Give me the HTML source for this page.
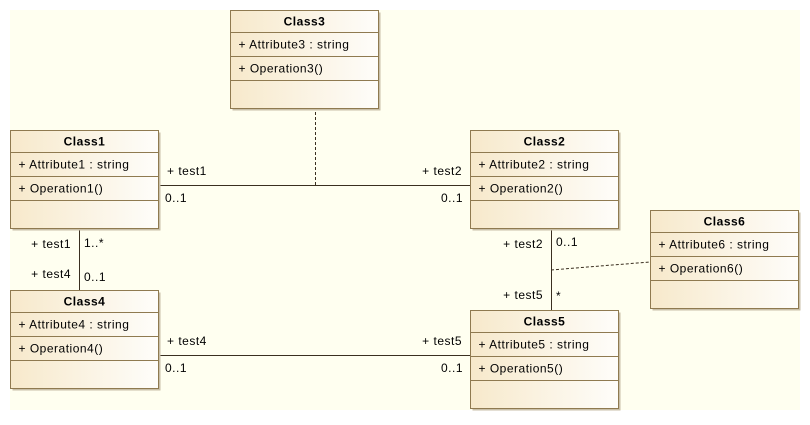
<!DOCTYPE html>
<html><head><style>
html,body{margin:0;padding:0;background:#fff;}
svg text{font-family:"Liberation Sans",sans-serif;font-size:12px;fill:#000;letter-spacing:0.5px;}
</style></head><body>
<svg width="810" height="420" xmlns="http://www.w3.org/2000/svg">
<defs>
<linearGradient id="g" x1="0" x2="1" y1="0" y2="0">
<stop offset="0" stop-color="#f7e9cb"/><stop offset="1" stop-color="#fefdfa"/>
</linearGradient>
<g id="box">
<rect x="2" y="2" width="148" height="98" fill="#c9bfa8"/>
<rect x="0" y="0" width="148" height="98" fill="url(#g)" stroke="#8f7a50" stroke-width="1"/>
<line x1="0" y1="22" x2="148" y2="22" stroke="#8f7a50"/>
<line x1="0" y1="46" x2="148" y2="46" stroke="#8f7a50"/>
<line x1="0" y1="70" x2="148" y2="70" stroke="#8f7a50"/>
</g>
</defs>
<rect x="10" y="10" width="790" height="400" fill="#fffff0"/>
<line x1="158" y1="185.5" x2="470" y2="185.5" stroke="#3a2f20"/>
<line x1="315.5" y1="112" x2="315.5" y2="185" stroke="#3a2f20" stroke-dasharray="3,2"/>
<line x1="79.5" y1="228" x2="79.5" y2="290" stroke="#3a2f20"/>
<line x1="158" y1="355.5" x2="470" y2="355.5" stroke="#3a2f20"/>
<line x1="551.5" y1="228" x2="551.5" y2="310" stroke="#3a2f20"/>
<polyline points="551,270 600,266 650,262" fill="none" stroke="#3a2f20" stroke-dasharray="3,2"/>
<g transform="translate(230.5,10.5)"><use href="#box"/><text x="74" y="15" text-anchor="middle" font-weight="bold">Class3</text><text x="8" y="38">+ Attribute3 : string</text><text x="8" y="62">+ Operation3()</text></g>
<g transform="translate(10.5,130.5)"><use href="#box"/><text x="74" y="15" text-anchor="middle" font-weight="bold">Class1</text><text x="8" y="38">+ Attribute1 : string</text><text x="8" y="62">+ Operation1()</text></g>
<g transform="translate(470.5,130.5)"><use href="#box"/><text x="74" y="15" text-anchor="middle" font-weight="bold">Class2</text><text x="8" y="38">+ Attribute2 : string</text><text x="8" y="62">+ Operation2()</text></g>
<g transform="translate(650.5,210.5)"><use href="#box"/><text x="74" y="15" text-anchor="middle" font-weight="bold">Class6</text><text x="8" y="38">+ Attribute6 : string</text><text x="8" y="62">+ Operation6()</text></g>
<g transform="translate(10.5,290.5)"><use href="#box"/><text x="74" y="15" text-anchor="middle" font-weight="bold">Class4</text><text x="8" y="38">+ Attribute4 : string</text><text x="8" y="62">+ Operation4()</text></g>
<g transform="translate(470.5,310.5)"><use href="#box"/><text x="74" y="15" text-anchor="middle" font-weight="bold">Class5</text><text x="8" y="38">+ Attribute5 : string</text><text x="8" y="62">+ Operation5()</text></g>
<text x="167" y="175">+ test1</text>
<text x="165" y="202">0..1</text>
<text x="462" y="175" text-anchor="end">+ test2</text>
<text x="463" y="202" text-anchor="end">0..1</text>
<text x="71" y="248" text-anchor="end">+ test1</text>
<text x="84" y="247">1..*</text>
<text x="71" y="278" text-anchor="end">+ test4</text>
<text x="84" y="281">0..1</text>
<text x="167" y="345">+ test4</text>
<text x="165" y="372">0..1</text>
<text x="462" y="345" text-anchor="end">+ test5</text>
<text x="463" y="372" text-anchor="end">0..1</text>
<text x="543" y="248" text-anchor="end">+ test2</text>
<text x="556" y="246">0..1</text>
<text x="543" y="299" text-anchor="end">+ test5</text>
<text x="556" y="300">*</text>
</svg>
</body></html>
